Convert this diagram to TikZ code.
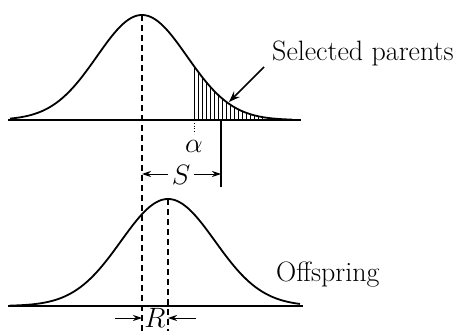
\documentclass[tikz,border=0pt]{standalone}
\usetikzlibrary{arrows.meta}
\begin{document}
\begin{tikzpicture}[x=1pt,y=-1pt,
  curve/.style={line width=1.8pt},
  base/.style={line width=1.6pt},
  dashln/.style={line width=1.1pt,dash pattern=on 6pt off 4pt},
  hatch/.style={line width=0.8pt},
  dimarrow/.style={line width=1pt,-{Stealth[length=9pt,width=6pt]}},
  lbl/.style={font=\fontsize{28}{32}\selectfont,inner sep=0pt},
  mlbl/.style={font=\fontsize{20}{24}\selectfont,inner sep=0pt,scale=1.35}]
\useasboundingbox (0,0) rectangle (465,331);
% top distribution
\draw[base] (8,120) -- (301,120);
\draw[curve,domain=10:292,samples=120,smooth] plot (\x,{120-105*exp(-0.5*((\x-142)/45)^2)});
\foreach \x in {194,198,...,262}
  \draw[hatch] (\x,120) -- (\x,{120-105*exp(-0.5*((\x-142)/45)^2)});
\draw[dashln] (142,15) -- (142,331);
\draw[line width=0.8pt,dotted] (194,120) -- (194,134);
\draw[line width=1.1pt] (221,120) -- (221,187);
\node[mlbl] (alpha) at (194,146) {$\alpha$};
\node[lbl,anchor=base west] (sel) at (272,61) {Selected parents};
\coordinate (tail) at (229,102);
\draw[line width=1.6pt,-{Stealth[length=11pt,width=8pt]}] (264,67) -- (tail);
% S
\node[mlbl] (S) at (181,175) {$S$};
\coordinate (Sl) at (142,174);
\coordinate (Sr) at (221,174);
\draw[dimarrow] (S.west |- Sl) ++(-3,0) -- (Sl);
\draw[dimarrow] (S.east |- Sr) ++(3,0) -- (Sr);
% bottom distribution
\draw[base] (8,306) -- (303,306);
\draw[curve,domain=10:300,samples=120,smooth] plot (\x,{306-107*exp(-0.5*((\x-168)/47)^2)});
\draw[dashln] (168,199) -- (168,331);
\node[lbl,anchor=base west] (off) at (276,281) {Offspring};
% R
\node[mlbl] (R) at (155,318) {$R$};
\coordinate (Rl) at (142,318);
\coordinate (Rr) at (168,318);
\coordinate (Rls) at (115,318);
\coordinate (Rrs) at (196,318);
\draw[dimarrow] (Rls) -- (Rl);
\draw[dimarrow] (Rrs) -- (Rr);
\end{tikzpicture}
\end{document}
